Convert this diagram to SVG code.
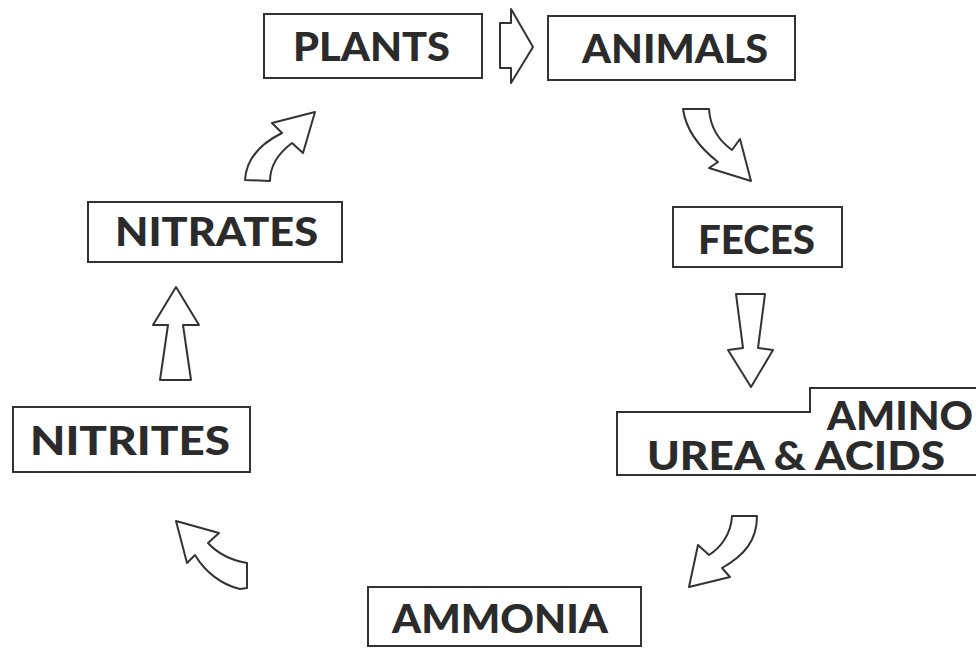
<svg xmlns="http://www.w3.org/2000/svg" width="976" height="648" viewBox="0 0 976 648">
<style>
.box{fill:#fff;stroke:#333;stroke-width:2}
.arr{fill:#fff;stroke:#333;stroke-width:2;stroke-linejoin:round}
.t{font-family:Lato,"Open Sans","Liberation Sans",sans-serif;font-weight:900;font-size:39px;fill:#2b2b2b}
</style>
<rect width="976" height="648" fill="#fff"/>
<g id="connectors">
<path class="arr" d="M500,23 L511,23 L511,9 L533,47 L511,83 L511,68 L500,68 Z"/>
<path class="arr" d="M683,109 L709,109 C710,125 718,140 732,150 L740,139 L751,181 L709,168 L718,162 C700,148 686,130 683,109 Z"/>
<path class="arr" d="M736,294 L765,294 L758,348 L773,350 L751,387 L728,350 L743,348 Z"/>
<path class="arr" d="M732,516 L757,516 C757,540 745,555 722,568 L730,577 L689,587 L698,545 L709,555 C720,548 731,535 732,516 Z"/>
<path class="arr" d="M176,521 L219,533 L208,543 C220,556 235,561 247,563 L247,588 L240,589 C222,585 205,572 195,555 L187,563 Z"/>
<path class="arr" d="M176,287 L199,325 L183,325 L191,380 L160,380 L168,325 L153,325 Z"/>
<path class="arr" d="M245,180 C246,160 258,145 282,133 L272,123 L315,112 L303,153 L292,143 C280,152 270,165 270,181 Z"/>
</g>
<g id="plants">
<rect class="box" x="264" y="14" width="218" height="64"/>
<text class="t" x="293" y="61" textLength="157" lengthAdjust="spacingAndGlyphs">PLANTS</text>
</g>
<g id="animals">
<rect class="box" x="548" y="16" width="247" height="64"/>
<text class="t" x="582" y="63" textLength="186" lengthAdjust="spacingAndGlyphs">ANIMALS</text>
</g>
<g id="feces">
<rect class="box" x="673" y="207" width="169" height="60"/>
<text class="t" x="698" y="254" textLength="117" lengthAdjust="spacingAndGlyphs">FECES</text>
</g>
<g id="urea-amino-acids">
<path class="box" d="M985,475 L617,475 L617,412 L810,412 L810,388 L985,388"/>
<text class="t" x="827" y="430" textLength="146" lengthAdjust="spacingAndGlyphs">AMINO</text>
<text class="t" x="647" y="470" textLength="298" lengthAdjust="spacingAndGlyphs">UREA &amp; ACIDS</text>
</g>
<g id="ammonia">
<rect class="box" x="368" y="587" width="273" height="59"/>
<text class="t" x="392" y="633" textLength="216" lengthAdjust="spacingAndGlyphs">AMMONIA</text>
</g>
<g id="nitrites">
<rect class="box" x="13" y="407" width="237" height="65"/>
<text class="t" x="30" y="455" textLength="200" lengthAdjust="spacingAndGlyphs">NITRITES</text>
</g>
<g id="nitrates">
<rect class="box" x="88" y="202" width="254" height="60"/>
<text class="t" x="115" y="246" textLength="203" lengthAdjust="spacingAndGlyphs">NITRATES</text>
</g>
</svg>
